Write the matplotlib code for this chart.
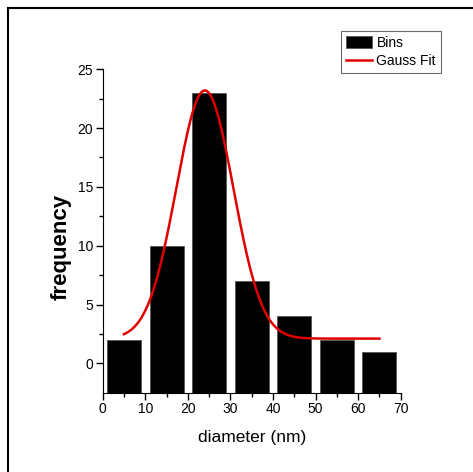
import numpy as np
import matplotlib
matplotlib.use("Agg")
import matplotlib.pyplot as plt
from matplotlib.lines import Line2D

plt.rcParams['font.family'] = ['Liberation Sans', 'DejaVu Sans']

# Data
bin_centers = [5, 15, 25, 35, 45, 55, 65]
counts = [2, 10, 23, 7, 4, 2, 1]

# Gauss fit parameters
y0 = 2.1
amp = 21.1
xc = 24.0
sigma = 6.7
x_fit = np.linspace(5, 65, 400)
y_fit = y0 + amp * np.exp(-(x_fit - xc)**2 / (2 * sigma**2))

fig = plt.figure(figsize=(4.73, 4.72), dpi=100)
ax = fig.add_axes([0.2171, 0.168, 0.630, 0.6852])

ymin = -2.5
bars = ax.bar(bin_centers, np.array(counts) - ymin, bottom=ymin, width=8,
              color="black", edgecolor="#555555", linewidth=0.6, label="Bins")
line, = ax.plot(x_fit, y_fit, color="#e00000", lw=1.8, label="Gauss Fit")

ax.set_xlim(0, 70)
ax.set_ylim(ymin, 25)
ax.set_xticks(np.arange(0, 71, 10))
ax.set_xticks(np.arange(5, 70, 10), minor=True)
ax.set_yticks(np.arange(0, 26, 5))
ax.set_yticks(np.arange(2.5, 25, 5), minor=True)
ax.tick_params(which="major", direction="out", length=5, width=1, labelsize=10, pad=2)
ax.tick_params(which="minor", direction="out", length=3, width=1)
ax.spines["top"].set_visible(False)
ax.spines["right"].set_visible(False)

ax.set_xlabel("diameter (nm)", fontsize=12.5, labelpad=10)
ax.set_ylabel("frequency", fontsize=16, fontweight="bold")
ax.yaxis.set_label_coords(-0.105, 0.45)

leg = ax.legend([bars, line], ["Bins", "Gauss Fit"], loc="upper left",
                bbox_to_anchor=(0.80, 1.118), frameon=True,
                fancybox=False, edgecolor="#444444", fontsize=10,
                handlelength=1.9, handleheight=0.95, borderpad=0.35,
                labelspacing=0.3, handletextpad=0.3, borderaxespad=0)
leg.get_frame().set_linewidth(0.8)

# outer frame
fig.add_artist(Line2D([7.5 / 473, 7.5 / 473], [0, 1 - 8 / 472], color="black", lw=1.5,
                      transform=fig.transFigure))
fig.add_artist(Line2D([7.5 / 473, 1], [1 - 8 / 472, 1 - 8 / 472], color="black", lw=1.5,
                      transform=fig.transFigure))

fig.savefig("out.png", dpi=100)
